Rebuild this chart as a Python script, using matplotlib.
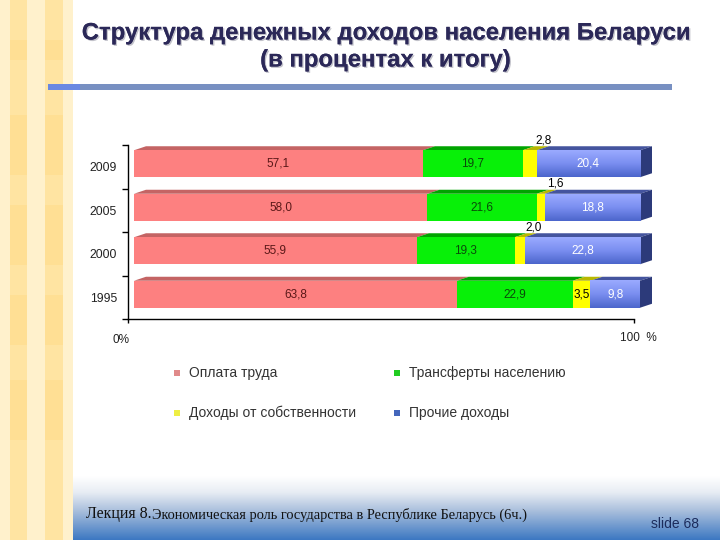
import matplotlib
matplotlib.use("Agg")
import matplotlib.pyplot as plt
import numpy as np
from matplotlib.patches import Rectangle, Polygon
from matplotlib.colors import LinearSegmentedColormap
import matplotlib.patheffects as pe

# ---------------- data ----------------
years = ["2009", "2005", "2000", "1995"]
series_names = ["Оплата труда", "Трансферты населению",
                "Доходы от собственности", "Прочие доходы"]
wages = [57.1, 58.0, 55.9, 63.8]
transfers = [19.7, 21.6, 19.3, 22.9]
property_income = [2.8, 1.6, 2.0, 3.5]
other_income = [20.4, 18.8, 22.8, 9.8]
title_lines = ["Структура денежных доходов населения Беларуси",
               "(в процентах к итогу)"]
footer_main = "Лекция 8."
footer_rest = "Экономическая роль государства в Республике Беларусь (6ч.)"
slide_label = "slide 68"

series = [wages, transfers, property_income, other_income]
front_colors = ["#fd8080", "#08f008", "#ffff00", "#7086ea"]
top_colors = ["#c46464", "#00a400", "#b8b800", "#44549e"]
label_colors = ["#5a1818", "#0a4a0a", "#000000", "#ffffff"]
legend_colors = ["#e08a8a", "#22cc22", "#eeee44", "#4466bb"]

W, H = 720, 540
fig = plt.figure(figsize=(7.2, 5.4), dpi=100)
fig.patch.set_facecolor("white")

def fx(px):
    return px / W

def fy(py):
    return 1 - py / H

# ---------------- left decorative panel ----------------
bounds = [0, 10, 27, 45, 63, 73]
light, dark = "#fff1cc", "#ffe4a2"
for k in range(len(bounds) - 1):
    c = light if k % 2 == 0 else dark
    fig.patches.append(Rectangle((fx(bounds[k]), 0), fx(bounds[k + 1] - bounds[k]), 1,
                                 transform=fig.transFigure, facecolor=c,
                                 edgecolor="none", zorder=0))
for (x0, x1) in [(10, 27), (45, 63)]:
    for (y0, y1) in [(40, 60), (115, 175), (205, 265), (295, 345), (380, 440)]:
        fig.patches.append(Rectangle((fx(x0), fy(y1)), fx(x1 - x0), (y1 - y0) / H,
                                     transform=fig.transFigure, facecolor="#ffdc88",
                                     edgecolor="none", alpha=0.5, zorder=0))

# ---------------- footer gradient ----------------
fax = fig.add_axes([fx(73), 0, 1 - fx(73), 64 / H], zorder=1)
cmap = LinearSegmentedColormap.from_list(
    "foot", [(0, "#ffffff"), (0.25, "#e8edf4"), (0.55, "#a8bedc"), (1, "#3c78c2")])
grad = np.linspace(0, 1, 200).reshape(-1, 1)
fax.imshow(grad, aspect="auto", cmap=cmap, extent=[0, 1, 0, 1], origin="upper")
fax.set_axis_off()
fig.text(fx(86), fy(514), footer_main, fontsize=11.5, family="Liberation Serif",
         color="#111111", va="center", ha="left", zorder=5)
fig.text(fx(152), fy(515), footer_rest, fontsize=10.4, family="Liberation Serif",
         color="#111111", va="center", ha="left", zorder=5)
fig.text(fx(651), fy(524), slide_label, fontsize=10, family="Liberation Sans",
         color="#1c2c5c", va="center", ha="left", zorder=5)

# ---------------- title ----------------
shadow = [pe.withSimplePatchShadow(offset=(1, -1), shadow_rgbFace="#9a9aa8", alpha=0.6),
          pe.Normal()]
fig.text(fx(385), fy(33), title_lines[0], fontsize=17.2, fontweight="bold",
         family="Liberation Sans", color="#2b2858", ha="center", va="center",
         path_effects=shadow)
fig.text(fx(385), fy(60), title_lines[1], fontsize=17.2, fontweight="bold",
         family="Liberation Sans", color="#2b2858", ha="center", va="center",
         path_effects=shadow)
fig.patches.append(Rectangle((fx(48), fy(89.5)), fx(672 - 48), 5 / H,
                             transform=fig.transFigure, facecolor="#7890c2",
                             edgecolor="none", zorder=2))
fig.patches.append(Rectangle((fx(48), fy(89.5)), fx(32), 5 / H,
                             transform=fig.transFigure, facecolor="#6a88e2",
                             edgecolor="none", zorder=2))

# ---------------- chart ----------------
ax_left, ax_right, ax_top, ax_bot = 128, 634, 145, 319
ax = fig.add_axes([fx(ax_left), fy(ax_bot), fx(ax_right - ax_left),
                   (ax_bot - ax_top) / H], zorder=3)
ax.patch.set_alpha(0)
ncat = len(years)
ax.set_xlim(0, 100)
ax.set_ylim(0, ncat)

PXX = 100 / (ax_right - ax_left)
PXY = ncat / (ax_bot - ax_top)
SX, SY = 6 * PXX, 3 * PXY
BH = 27 * PXY
DX, DY = 12 * PXX, 4 * PXY

blue_cmap = LinearSegmentedColormap.from_list("blue", ["#9aaaff", "#7a8ef0", "#4c66cc"])

for i, yr in enumerate(years):
    yc = ncat - 0.5 - i + SY
    bottom, top = yc - BH / 2, yc + BH / 2
    left = SX
    for j, vals in enumerate(series):
        w = vals[i]
        ax.add_patch(Polygon([(left, top), (left + w, top), (left + w + DX, top + DY),
                              (left + DX, top + DY)], closed=True,
                             facecolor=top_colors[j], edgecolor="none", clip_on=False, zorder=2))
        rect = Rectangle((left, bottom), w, BH, facecolor=front_colors[j],
                         edgecolor="none", clip_on=False, zorder=3)
        ax.add_patch(rect)
        if j == len(series) - 1:
            im = ax.imshow(np.linspace(0, 1, 50).reshape(-1, 1), cmap=blue_cmap,
                           aspect="auto", extent=[left, left + w, bottom, top],
                           origin="upper", zorder=3.5, clip_on=False)
            im.set_clip_path(rect)
            ax.add_patch(Polygon([(left + w, bottom), (left + w, top),
                                  (left + w + DX, top + DY), (left + w + DX, bottom + DY)],
                                 closed=True, facecolor="#2c3a7a", edgecolor="none",
                                 clip_on=False, zorder=2))
        txt = f"{w:.1f}".replace(".", ",")
        if j == 2 and w < 3:
            ax.text(left + w / 2 + 14 * PXX, top + DY + 3 * PXY, txt, fontsize=8.5,
                    family="Liberation Sans", color=label_colors[j], ha="center",
                    va="baseline", zorder=5, clip_on=False)
        else:
            ax.text(left + w / 2, yc, txt, fontsize=8.5, family="Liberation Sans",
                    color=label_colors[j], ha="center", va="center", zorder=5,
                    clip_on=False)
        left += w

ax.set_xlim(0, 100)
ax.set_ylim(0, ncat)
for s in ["top", "right"]:
    ax.spines[s].set_visible(False)
for s in ["left", "bottom"]:
    ax.spines[s].set_color("black")
    ax.spines[s].set_linewidth(1)
    ax.spines[s].set_zorder(6)

ax.set_yticks(np.arange(ncat + 1))
ax.set_yticklabels([])
ax.set_yticks(np.arange(ncat) + 0.5, minor=True)
ax.set_yticklabels(years[::-1], minor=True, fontsize=8.8, family="Liberation Sans",
                   color="#222222")
ax.tick_params(axis="y", which="major", length=4, width=1, direction="out")
ax.tick_params(axis="y", which="minor", length=0, pad=8)
ax.set_xticks([0, 100])
ax.set_xticklabels([])
ax.tick_params(axis="x", length=3, width=1, direction="out")
ax.annotate("0%", xy=(0, 0), xycoords=("data", "axes fraction"), xytext=(-7, -21),
            textcoords="offset pixels", ha="center", va="center", fontsize=8.5,
            family="Liberation Sans", color="#222222", annotation_clip=False)
ax.annotate("100  %", xy=(100, 0), xycoords=("data", "axes fraction"), xytext=(4, -19),
            textcoords="offset pixels", ha="center", va="center", fontsize=8.5,
            family="Liberation Sans", color="#222222", annotation_clip=False)

# ---------------- legend ----------------
leg_pos = [(177, 373), (397, 373), (177, 413), (397, 413)]
for (px, py), name, c in zip(leg_pos, series_names, legend_colors):
    fig.patches.append(Rectangle((fx(px - 3), fy(py + 3)), fx(6), 6 / H,
                                 transform=fig.transFigure, facecolor=c,
                                 edgecolor="none", zorder=4))
    fig.text(fx(px + 12), fy(py), name, fontsize=10, family="Liberation Sans",
             color="#333333", ha="left", va="center")

fig.savefig("out.png", dpi=100, facecolor=fig.get_facecolor())
